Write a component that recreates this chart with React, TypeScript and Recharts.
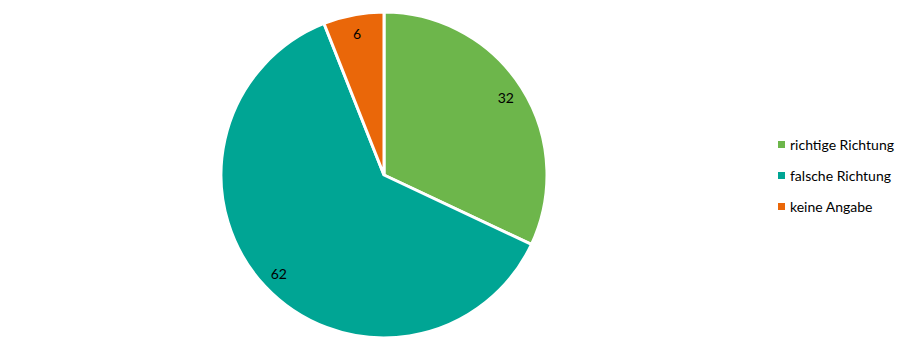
import { Cell, Legend, Pie, PieChart } from 'recharts';

const categories = ['richtige Richtung', 'falsche Richtung', 'keine Angabe'];
const values = [32, 62, 6];
const colors = ['#6DB64B', '#00A594', '#EA6709'];

const data = categories.map((name, i) => ({ name, value: values[i] }));

const RAD = Math.PI / 180;

const renderLabel = (props: any) => {
  const { cx, cy, midAngle, outerRadius, value } = props;
  const r = outerRadius * 0.885;
  const x = cx + r * Math.cos(-midAngle * RAD);
  const y = cy + r * Math.sin(-midAngle * RAD);
  return (
    <text
      x={x}
      y={y}
      fill="#000"
      fontSize={14}
      fontFamily="Lato, 'Open Sans', sans-serif"
      textAnchor="middle"
      dominantBaseline="central"
    >
      {value}
    </text>
  );
};

const renderLegend = () => (
  <div style={{ fontFamily: "Lato, 'Open Sans', sans-serif", fontSize: 14, color: '#000' }}>
    {data.map((d, i) => (
      <div key={d.name} style={{ display: 'flex', alignItems: 'center', height: 31 }}>
        <span
          style={{ width: 7, height: 7, background: colors[i], display: 'inline-block', marginRight: 5 }}
        />
        <span>{d.name}</span>
      </div>
    ))}
  </div>
);

export default function App() {
  return (
    <div style={{ width: 909, height: 357, background: '#fff' }}>
      <style>{`body{margin:0}`}</style>
      <PieChart width={909} height={357} margin={{ top: 0, right: 0, bottom: 0, left: 0 }}>
        <Pie
          data={data}
          dataKey="value"
          nameKey="name"
          cx={384}
          cy={175}
          outerRadius={163}
          startAngle={90}
          endAngle={-270}
          stroke="#fff"
          strokeWidth={3}
          label={renderLabel}
          labelLine={false}
          isAnimationActive={false}
        >
          {data.map((d, i) => (
            <Cell key={d.name} fill={colors[i]} />
          ))}
        </Pie>
        <Legend
          content={renderLegend}
          wrapperStyle={{ left: 778, top: 129, width: 130 }}
        />
      </PieChart>
    </div>
  );
}
